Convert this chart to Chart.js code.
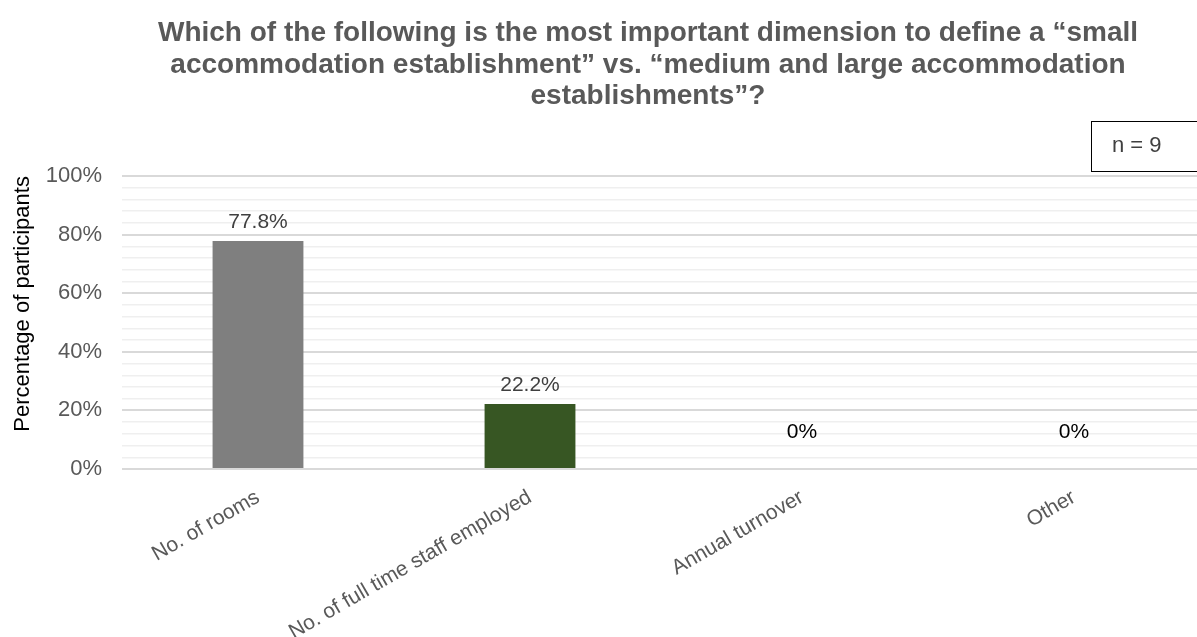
<!DOCTYPE html>
<html>
<head>
<meta charset="utf-8">
<script src="https://cdn.jsdelivr.net/npm/chart.js@4/dist/chart.umd.min.js"></script>
<style>
    html, body { margin: 0; padding: 0; background: #fff; overflow: hidden; }
    #wrap { position: relative; width: 1197px; height: 637px; overflow: hidden; }
    #box { position: absolute; left: 0; top: 0; width: 1296px; height: 660px; }
    #sample {
        position: absolute; left: 1091px; top: 121px; width: 140px; height: 51px;
        border: 1.5px solid #000; box-sizing: border-box;
        font: 22px "Liberation Sans", Arial, sans-serif; color: #404040;
        padding-left: 20px; line-height: 46px;
    }
</style>
</head>
<body>
<div id="wrap">
    <div id="box"><canvas id="dimensionChart" width="1296" height="660"></canvas></div>
    <div id="sample">n = 9</div>
</div>
<script>
// Respostas: dimensão mais importante para definir o porte do estabelecimento
const categories = ['No. of rooms', 'No. of full time staff employed', 'Annual turnover', 'Other'];
const shares = [77.8, 22.2, 0, 0];
const barColors = ['#7F7F7F', '#375623', '#7F7F7F', '#375623'];
const titleLines = [
    'Which of the following is the most important dimension to define a \u201csmall',
    'accommodation establishment\u201d vs. \u201cmedium and large accommodation',
    'establishments\u201d?'
];

const FONT = '"Liberation Sans", Arial, sans-serif';

// Rótulos de valor acima das barras
const valueLabels = {
    id: 'valueLabels',
    afterDatasetsDraw(chart) {
        const ctx = chart.ctx;
        const meta = chart.getDatasetMeta(0);
        ctx.save();
        ctx.font = '21px ' + FONT;
        ctx.textAlign = 'center';
        ctx.textBaseline = 'bottom';
        meta.data.forEach((bar, i) => {
            const v = shares[i];
            const text = v === 0 ? '0%' : v.toFixed(1) + '%';
            ctx.fillStyle = v === 0 ? '#000' : '#404040';
            const lift = v === 0 ? 26 : 8;
            ctx.fillText(text, bar.x, bar.y - lift);
        });
        ctx.restore();
    }
};

new Chart(document.getElementById('dimensionChart'), {
    type: 'bar',
    data: {
        labels: categories,
        datasets: [{
            data: shares,
            backgroundColor: barColors,
            borderWidth: 0,
            categoryPercentage: 1,
            barPercentage: 0.334
        }]
    },
    options: {
        responsive: false,
        animation: false,
        layout: { padding: 0 },
        plugins: {
            legend: { display: false },
            tooltip: { enabled: false },
            title: {
                display: true,
                text: titleLines,
                color: '#595959',
                font: { family: FONT, size: 28, weight: 'bold', lineHeight: 1.12 },
                padding: { top: 18, bottom: 64 }
            }
        },
        scales: {
            x: {
                grid: { display: false },
                border: { display: false },
                ticks: {
                    color: '#595959',
                    font: { family: FONT, size: 21 },
                    minRotation: 30,
                    maxRotation: 30,
                    padding: 8
                },
                afterFit: s => { s.height = 191; }
            },
            y: {
                min: 0,
                max: 100,
                border: { display: false },
                grid: {
                    drawTicks: false,
                    color: c => c.tick && c.tick.value % 20 === 0 ? '#d9d9d9' : '#efefef',
                    lineWidth: c => c.tick && c.tick.value % 20 === 0 ? 2 : 1.5
                },
                ticks: {
                    stepSize: 4,
                    autoSkip: false,
                    padding: 20,
                    color: '#595959',
                    font: { family: FONT, size: 22 },
                    callback: v => v % 20 === 0 ? v + '%' : ''
                },
                title: {
                    display: true,
                    text: 'Percentage of participants',
                    align: 'end',
                    color: '#000',
                    font: { family: FONT, size: 22 },
                    padding: { top: 10, bottom: 0 }
                },
                afterFit: s => { s.width = 122; }
            },
            // espaço vazio à direita da área do gráfico (sem dados)
            spacer: {
                type: 'linear',
                position: 'right',
                grid: { display: false },
                border: { display: false },
                ticks: { display: false },
                afterFit: s => { s.width = 86; }
            }
        }
    },
    plugins: [valueLabels]
});
</script>
</body>
</html>
